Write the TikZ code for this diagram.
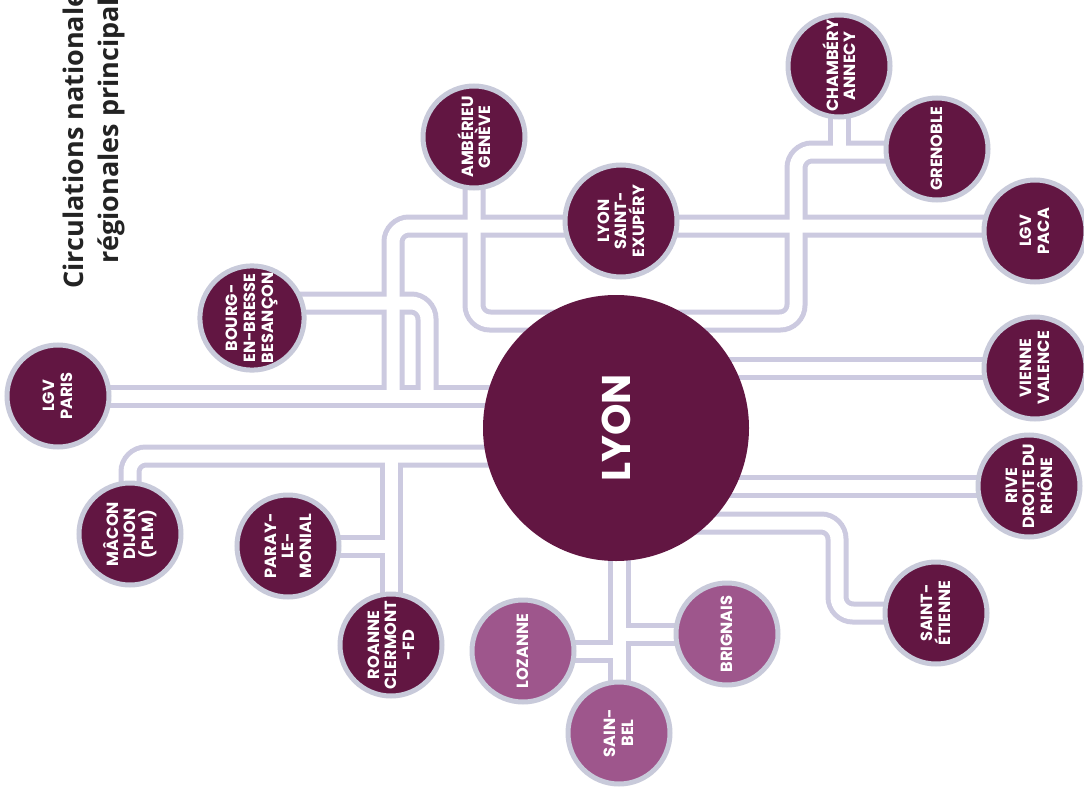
\documentclass[tikz,border=0pt]{standalone}
\usepackage{fontspec}
\setmainfont{Open Sans}
\newfontfamily\labfont{Poppins}
\pgfdeclarelayer{paper}
\pgfdeclarelayer{lavl}
\pgfdeclarelayer{whitel}
\pgfsetlayers{paper,lavl,whitel,main}
\definecolor{wine}{RGB}{98,22,66}
\definecolor{mauve}{RGB}{158,86,140}
\definecolor{ringc}{RGB}{200,202,218}
\definecolor{railc}{RGB}{204,202,224}
\definecolor{titlec}{RGB}{35,35,35}
\newcommand\railway[1]{%
  \begin{pgfonlayer}{lavl}\draw[railout] #1;\end{pgfonlayer}%
  \begin{pgfonlayer}{whitel}\draw[railin] #1;\end{pgfonlayer}}
\tikzset{
  city/.style={circle, draw=ringc, line width=5bp, fill=wine, minimum size=102bp,
    inner sep=0pt, text=white, align=center, rotate=90,
    font=\labfont\bfseries\fontsize{16.2bp}{17.6bp}\selectfont},
  lightcity/.style={city, fill=mauve},
  hub/.style={circle, fill=wine, minimum size=266bp, inner sep=0pt, text=white,
    rotate=90, font=\labfont\bfseries\fontsize{40bp}{44bp}\selectfont},
  railout/.style={draw=railc, line width=23bp, rounded corners=16bp},
  railin/.style={draw=white, line width=13bp, rounded corners=16bp},
  titletext/.style={rotate=90, anchor=base, text=titlec,
    font=\bfseries\fontsize{27bp}{33bp}\selectfont}
}
\begin{document}
\begin{tikzpicture}[x=1bp,y=-1bp]
\begin{pgfonlayer}{paper}
\fill[white] (0,0) rectangle (1084,793);
\end{pgfonlayer}
\useasboundingbox (0,0) rectangle (1084,793);
\begin{scope}
\clip (0,0) rectangle (1084,793);
\node[titletext] (t1) at (83,116) {Circulations nationales et};
\node[titletext] (t2) at (118,116) {régionales principales};
\end{scope}

% nodes
\node[hub] (lyon) at (616,428) {LYON};
\node[city] (paris) at (58,396) {LGV\\PARIS};
\node[city] (bourg) at (252,318) {BOURG-\\EN-BRESSE\\BESANÇON};
\node[city] (amb) at (474,137) {AMBÉRIEU\\GENÈVE};
\node[city, minimum size=112bp] (stex) at (621,221) {LYON\\SAINT-\\EXUPÉRY};
\node[city] (cham) at (839,66) {CHAMBÉRY\\ANNECY};
\node[city] (gren) at (937,149) {GRENOBLE};
\node[city] (paca) at (1035,231) {LGV\\PACA};
\node[city] (vienne) at (1035,368) {VIENNE\\VALENCE};
\node[city] (rive) at (1029,486) {RIVE\\DROITE DU\\RHÔNE};
\node[city] (stet) at (936,613) {SAINT-\\ÉTIENNE};
\node[lightcity] (brig) at (727,634) {BRIGNAIS};
\node[lightcity] (sainbel) at (619,733) {SAIN-\\BEL};
\node[lightcity] (loz) at (523,651) {LOZANNE};
\node[city] (roanne) at (391,645) {ROANNE\\CLERMONT\\-FD};
\node[city] (paray) at (288,546) {PARAY-\\LE-\\MONIAL};
\node[city] (macon) at (130,534) {MÂCON\\DIJON\\(PLM)};

% bend points
\coordinate (jb) at (427,303);
\coordinate (js) at (393,226);
\coordinate (ja) at (796,321);
\coordinate (jg) at (796,152);
\coordinate (je) at (837,523);
\coordinate (jm) at (130,456);

% tracks
\railway{(paris.center) -- (lyon.center |- paris.center)}
\railway{(bourg.center |- jb) -- (jb) -- (jb |- paris.center)}
\railway{(js |- paris.center) -- (js) -- (paca.center |- js)}
\railway{(amb.center) -- (amb.center |- ja) -- (ja) -- (jg) -- (gren.center |- jg)}
\railway{(cham.center) -- (cham.center |- jg)}
\railway{(lyon.center |- vienne.center) -- (vienne.center)}
\railway{(lyon.center |- rive.center) -- (rive.center)}
\railway{(lyon.center |- je) -- (je) -- (je |- stet.center) -- (stet.center)}
\railway{(sainbel.center |- lyon.center) -- (sainbel.center)}
\railway{(sainbel.center |- brig.center) -- (brig.center)}
\railway{(sainbel.center |- loz.center) -- (loz.center)}
\railway{(lyon.center |- jm) -- (jm) -- (macon.center)}
\railway{(roanne.center |- jm) -- (roanne.center)}
\railway{(paray.center) -- (roanne.center |- paray.center)}
\end{tikzpicture}
\end{document}
